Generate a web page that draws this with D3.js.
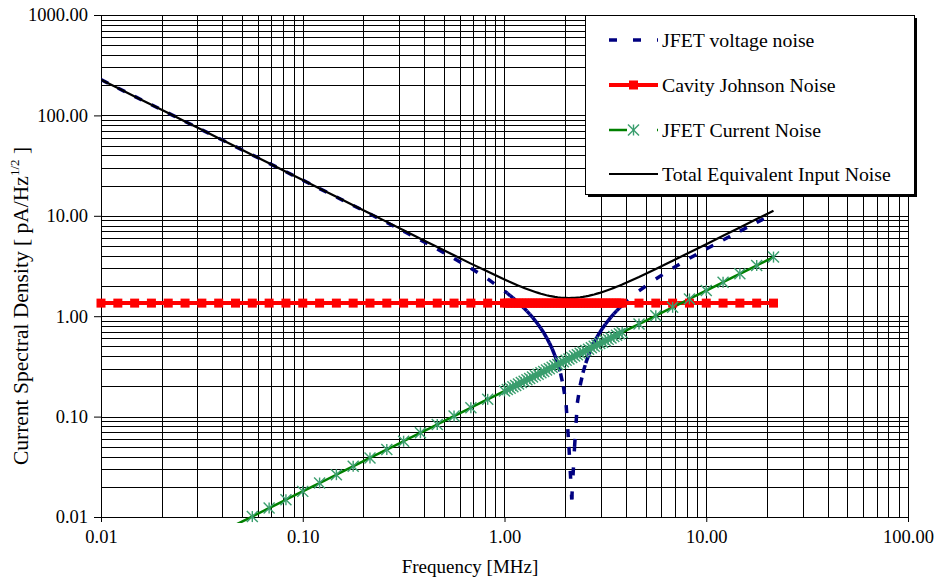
<!DOCTYPE html>
<html>
<head>
<meta charset="utf-8">
<script src="https://cdn.jsdelivr.net/npm/d3@7"></script>
<style>
  body { margin: 0; background: #fff; }
  text { font-family: "Liberation Serif", "Times New Roman", serif; fill: #000; }
</style>
</head>
<body>
<div id="chart"></div>
<script>
// frequency grid [MHz] (12 per decade, dense between 1 and 3.8 MHz)
const freq = [
  0.01, 0.01212, 0.01468, 0.01778, 0.02154, 0.0261, 0.03162, 0.03831, 0.04642, 0.05623, 0.06813, 0.08254,
  0.1, 0.1212, 0.1468, 0.1778, 0.2154, 0.261, 0.3162, 0.3831, 0.4642, 0.5623, 0.6813, 0.8254,
  1.0, 1.0325, 1.0661, 1.1007, 1.1365, 1.1735, 1.2115, 1.251, 1.2915, 1.3335, 1.3769, 1.4216,
  1.4678, 1.5155, 1.5647, 1.6156, 1.6681, 1.7223, 1.7783, 1.8361, 1.8957, 1.9573, 2.021, 2.0866,
  2.1544, 2.2245, 2.2967, 2.3714, 2.4484, 2.528, 2.6102, 2.695, 2.7826, 2.873, 2.9664, 3.0628,
  3.1623, 3.2651, 3.3712, 3.4808, 3.5938, 3.7107, 3.8312,
  4.6416, 5.6234, 6.8129, 8.254, 10, 12.115, 14.678, 17.783, 21.544
];

// JFET voltage noise
const voltage = [
  227, 187.3, 154.6, 127.7, 105.4, 86.96, 71.77, 59.24, 48.88, 40.34, 33.29, 27.46,
  22.65, 18.67, 15.39, 12.68, 10.43, 8.57, 7.02, 5.74, 4.66, 3.76, 3.0, 2.35,
  1.78, 1.693, 1.607, 1.523, 1.441, 1.359, 1.28, 1.202, 1.125, 1.049, 0.974, 0.9,
  0.827, 0.755, 0.684, 0.613, 0.543, 0.474, 0.405, 0.337, 0.269, 0.201, 0.13, 0.05,
  0.015, 0.05, 0.137, 0.205, 0.273, 0.341, 0.409, 0.478, 0.548, 0.618, 0.688, 0.76,
  0.832, 0.905, 0.979, 1.054, 1.129, 1.207, 1.285,
  1.785, 2.352, 3.005, 3.77, 4.673, 5.749, 7.038, 8.586, 10.45
];

// Cavity Johnson noise
const johnson = [
  1.35, 1.35, 1.35, 1.35, 1.35, 1.35, 1.35, 1.35, 1.35, 1.35, 1.35, 1.35,
  1.35, 1.35, 1.35, 1.35, 1.35, 1.35, 1.35, 1.35, 1.35, 1.35, 1.35, 1.35,
  1.35, 1.35, 1.35, 1.35, 1.35, 1.35, 1.35, 1.35, 1.35, 1.35, 1.35, 1.35,
  1.35, 1.35, 1.35, 1.35, 1.35, 1.35, 1.35, 1.35, 1.35, 1.35, 1.35, 1.35,
  1.35, 1.35, 1.35, 1.35, 1.35, 1.35, 1.35, 1.35, 1.35, 1.35, 1.35, 1.35,
  1.35, 1.35, 1.35, 1.35, 1.35, 1.35, 1.35,
  1.35, 1.35, 1.35, 1.35, 1.35, 1.35, 1.35, 1.35, 1.35
];

// JFET current noise
const current = [
  0.0018, 0.00218, 0.00264, 0.0032, 0.00388, 0.0047, 0.00569, 0.0069, 0.00836, 0.0101, 0.01226, 0.01486,
  0.018, 0.0218, 0.0264, 0.032, 0.0388, 0.047, 0.0569, 0.069, 0.0836, 0.1012, 0.1226, 0.1486,
  0.18, 0.1859, 0.1919, 0.1981, 0.2046, 0.2112, 0.2181, 0.2252, 0.2325, 0.24, 0.2478, 0.2559,
  0.2642, 0.2728, 0.2816, 0.2908, 0.3003, 0.31, 0.3201, 0.3305, 0.3412, 0.3523, 0.3638, 0.3756,
  0.3878, 0.4004, 0.4134, 0.4269, 0.4407, 0.455, 0.4698, 0.4851, 0.5009, 0.5171, 0.534, 0.5513,
  0.5692, 0.5877, 0.6068, 0.6265, 0.6469, 0.6679, 0.6896,
  0.8355, 1.012, 1.226, 1.486, 1.8, 2.181, 2.642, 3.201, 3.878
];

// Total equivalent input noise
const total = [
  227, 187.3, 154.6, 127.7, 105.4, 86.97, 71.79, 59.26, 48.9, 40.37, 33.32, 27.5,
  22.7, 18.73, 15.46, 12.76, 10.53, 8.7, 7.17, 5.92, 4.89, 4.04, 3.34, 2.78,
  2.315, 2.249, 2.186, 2.126, 2.068, 2.013, 1.961, 1.912, 1.865, 1.821, 1.78, 1.742,
  1.707, 1.674, 1.645, 1.618, 1.595, 1.575, 1.557, 1.543, 1.532, 1.524, 1.52, 1.518,
  1.52, 1.524, 1.533, 1.544, 1.558, 1.575, 1.596, 1.62, 1.646, 1.676, 1.708, 1.744,
  1.782, 1.823, 1.867, 1.914, 1.963, 2.015, 2.07,
  2.458, 2.952, 3.563, 4.31, 5.219, 6.322, 7.66, 9.281, 11.24
];

const xTicks = [0.01, 0.1, 1, 10, 100];
const yTicks = [0.01, 0.1, 1, 10, 100, 1000];
const legendNames = ["JFET voltage noise", "Cavity Johnson Noise", "JFET Current Noise", "Total Equivalent Input Noise"];

const W = 936, H = 583;
const margin = {top: 15, right: 28, bottom: 66, left: 101},
    width = W - margin.left - margin.right,
    height = H - margin.top - margin.bottom;

const svg = d3.select("#chart")
  .append("svg")
    .attr("width", W)
    .attr("height", H);

const g = svg.append("g")
    .attr("transform", `translate(${margin.left}, ${margin.top})`);

const x = d3.scaleLog().domain([0.01, 100]).range([0, width]);
const y = d3.scaleLog().domain([0.01, 1000]).range([height, 0]);

// grid lines
g.append("g").selectAll("line")
  .data(x.ticks())
  .join("line")
    .attr("x1", d => Math.round(x(d)) + 0.5)
    .attr("x2", d => Math.round(x(d)) + 0.5)
    .attr("y1", 0)
    .attr("y2", height)
    .attr("stroke", "#000")
    .attr("stroke-width", 1);

g.append("g").selectAll("line")
  .data(y.ticks())
  .join("line")
    .attr("x1", 0)
    .attr("x2", width)
    .attr("y1", d => Math.round(y(d)) + 0.5)
    .attr("y2", d => Math.round(y(d)) + 0.5)
    .attr("stroke", "#000")
    .attr("stroke-width", 1);

// axes
const xAxis = g.append("g")
  .attr("transform", `translate(0, ${height})`)
  .call(d3.axisBottom(x).tickValues(xTicks).tickFormat(d3.format(".2f")).tickSize(5).tickPadding(8));
const yAxis = g.append("g")
  .call(d3.axisLeft(y).tickValues(yTicks).tickFormat(d3.format(".2f")).tickSize(7).tickPadding(6));
[xAxis, yAxis].forEach(a => {
  a.attr("font-family", null);
  a.selectAll("path,line").attr("stroke", "#000");
  a.selectAll("text").style("font-size", "18.5px").attr("fill", "#000");
});

svg.append("text")
  .attr("x", 470)
  .attr("y", 573)
  .attr("text-anchor", "middle")
  .style("font-size", "19px")
  .text("Frequency [MHz]");

const yTitle = svg.append("text")
  .attr("transform", "translate(28, 306) rotate(-90)")
  .attr("text-anchor", "middle")
  .style("font-size", "21.5px");
yTitle.append("tspan").text("Current Spectral Density [ pA/Hz");
yTitle.append("tspan").attr("dy", -9).style("font-size", "13px").text("1/2");
yTitle.append("tspan").attr("dy", 9).text(" ]");

// data rows
const rows = freq.map((f, i) => ({f: f, v: voltage[i], j: johnson[i], c: current[i], t: total[i]}));

svg.append("defs").append("clipPath")
    .attr("id", "plotclip")
  .append("rect")
    .attr("x", 0).attr("y", -5)
    .attr("width", width).attr("height", height + 11);

const plot = g.append("g").attr("clip-path", "url(#plotclip)");

// dashed series: Excel restarts the dash pattern on every segment
function segments(key, color, w, dash) {
  plot.append("g").selectAll("line")
    .data(d3.pairs(rows))
    .join("line")
      .attr("x1", d => x(d[0].f))
      .attr("y1", d => y(d[0][key]))
      .attr("x2", d => x(d[1].f))
      .attr("y2", d => y(d[1][key]))
      .attr("stroke", color)
      .attr("stroke-width", w)
      .attr("stroke-dasharray", dash);
}

// JFET voltage noise
segments("v", "#000080", 3.5, "8,16");

// Cavity Johnson noise
plot.append("path")
  .datum(rows)
  .attr("fill", "none")
  .attr("stroke", "#ff0000")
  .attr("stroke-width", 4)
  .attr("d", d3.line().x(d => x(d.f)).y(d => y(d.j)));
g.append("g").selectAll("rect")
  .data(rows)
  .join("rect")
    .attr("x", d => x(d.f) - 4.5)
    .attr("y", d => y(d.j) - 4.5)
    .attr("width", 9)
    .attr("height", 9)
    .attr("fill", "#ff0000");

// JFET current noise
segments("c", "#008000", 2.5, "18,30");
function star(sel, s) {
  sel.append("line").attr("x1", 0).attr("y1", -s).attr("x2", 0).attr("y2", s);
  sel.append("line").attr("x1", -s).attr("y1", -s).attr("x2", s).attr("y2", s);
  sel.append("line").attr("x1", -s).attr("y1", s).attr("x2", s).attr("y2", -s);
}
g.append("g").selectAll("g")
  .data(rows.filter(d => d.c >= 0.01))
  .join("g")
    .attr("transform", d => `translate(${x(d.f)}, ${y(d.c)})`)
    .attr("stroke", "#3a9e6e")
    .attr("stroke-width", 1.4)
    .each(function() { star(d3.select(this), 5.5); });

// Total equivalent input noise
plot.append("path")
  .datum(rows)
  .attr("fill", "none")
  .attr("stroke", "#000")
  .attr("stroke-width", 2.2)
  .attr("d", d3.line().x(d => x(d.f)).y(d => y(d.t)));

// legend
const lg = svg.append("g").attr("transform", "translate(585, 15)");
lg.append("rect").attr("x", 3).attr("y", 3).attr("width", 329).attr("height", 179).attr("fill", "#000");
lg.append("rect").attr("x", 0.5).attr("y", 0.5).attr("width", 329).attr("height", 179)
  .attr("fill", "#fff").attr("stroke", "#000");

const rowY = [25, 70, 115, 159];
lg.append("line").attr("x1", 24).attr("x2", 73).attr("y1", rowY[0]).attr("y2", rowY[0])
  .attr("stroke", "#000080").attr("stroke-width", 3.5).attr("stroke-dasharray", "8,16");
lg.append("line").attr("x1", 24).attr("x2", 73).attr("y1", rowY[1]).attr("y2", rowY[1])
  .attr("stroke", "#ff0000").attr("stroke-width", 4);
lg.append("rect").attr("x", 44).attr("y", rowY[1] - 4.5).attr("width", 9).attr("height", 9).attr("fill", "#ff0000");
lg.append("line").attr("x1", 24).attr("x2", 73).attr("y1", rowY[2]).attr("y2", rowY[2])
  .attr("stroke", "#008000").attr("stroke-width", 2.5).attr("stroke-dasharray", "18,30");
lg.append("g").attr("transform", `translate(48.5, ${rowY[2]})`)
  .attr("stroke", "#3a9e6e").attr("stroke-width", 1.4)
  .call(s => star(s, 5.5));
lg.append("line").attr("x1", 24).attr("x2", 73).attr("y1", rowY[3]).attr("y2", rowY[3])
  .attr("stroke", "#000").attr("stroke-width", 2.2);

lg.selectAll("text.leg")
  .data(legendNames)
  .join("text")
    .attr("class", "leg")
    .attr("x", 77)
    .attr("y", (d, i) => rowY[i] + 6.5)
    .style("font-size", "19.8px")
    .text(d => d);
</script>
</body>
</html>
